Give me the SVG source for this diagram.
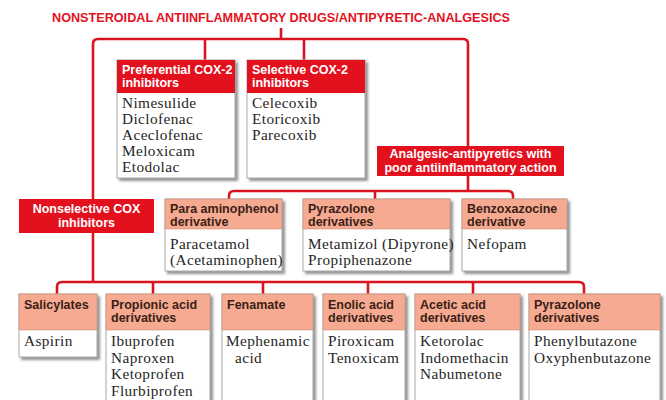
<svg xmlns="http://www.w3.org/2000/svg" width="666" height="400" viewBox="0 0 666 400">
<defs>
<filter id="sh" x="-10%" y="-10%" width="130%" height="130%">
<feDropShadow dx="2.5" dy="2.5" stdDeviation="1" flood-color="#6e6e6e" flood-opacity="0.75"/>
</filter>
<style>
.title{font-family:"Liberation Sans",Arial,sans-serif;font-weight:bold;font-size:12.5px;fill:#e3121d}
.box{fill:#fff;stroke:#a8a8a8;stroke-width:1;filter:url(#sh)}
.rh{fill:#e3101e}
.sh{fill:#f5aa91;stroke:#c98c78;stroke-width:0.6}
.wt{font-family:"Liberation Sans",Arial,sans-serif;font-weight:bold;font-size:12.5px;fill:#fff}
.ht{font-family:"Liberation Sans",Arial,sans-serif;font-weight:bold;font-size:12.5px;fill:#3a1f17}
.bt{font-family:"Liberation Serif","Times New Roman",serif;font-size:15.3px;letter-spacing:0.4px;fill:#262626}
.ln{fill:none;stroke:#d9141f;stroke-width:2.6;stroke-linejoin:round}
.c{text-anchor:middle}
</style>
</defs>
<rect width="666" height="400" fill="#fff"/>
<text class="title c" x="281" y="22" textLength="458" lengthAdjust="spacingAndGlyphs">NONSTEROIDAL ANTIINFLAMMATORY DRUGS/ANTIPYRETIC-ANALGESICS</text>

<g id="connectors">
<path class="ln" d="M281,28 V39"/>
<path class="ln" d="M93,199 V44 Q93,39 98,39 H463 Q468,39 468,44 V147"/>
<path class="ln" d="M205,39 V60 M304,39 V60"/>
<path class="ln" d="M93,233 V282"/>
<path class="ln" d="M57,294 V287 Q57,282 62,282 H579 Q584,282 584,287 V294"/>
<path class="ln" d="M153,282 V294 M263,282 V294 M368,282 V294 M473,282 V294"/>
<path class="ln" d="M468,176 V191"/>
<path class="ln" d="M229,199 V196 Q229,191 234,191 H508 Q513,191 513,196 V199"/>
<path class="ln" d="M375,191 V199"/>
</g>

<g id="preferential">
<rect class="box" x="117" y="60" width="118" height="118"/>
<rect class="rh" x="117" y="60" width="118" height="33"/>
<text class="wt" x="122" y="74">Preferential COX-2</text>
<text class="wt" x="122" y="87">inhibitors</text>
<text class="bt" x="122" y="108">Nimesulide</text>
<text class="bt" x="122" y="124">Diclofenac</text>
<text class="bt" x="122" y="140">Aceclofenac</text>
<text class="bt" x="122" y="156">Meloxicam</text>
<text class="bt" x="122" y="172">Etodolac</text>
</g>

<g id="selective">
<rect class="box" x="247" y="60" width="118" height="118"/>
<rect class="rh" x="247" y="60" width="118" height="33"/>
<text class="wt" x="252" y="74">Selective COX-2</text>
<text class="wt" x="252" y="87">inhibitors</text>
<text class="bt" x="252" y="108">Celecoxib</text>
<text class="bt" x="252" y="124">Etoricoxib</text>
<text class="bt" x="252" y="140">Parecoxib</text>
</g>

<g id="analgesic">
<rect class="rh" x="377" y="146" width="187" height="30"/>
<text class="wt c" x="470.5" y="158">Analgesic-antipyretics with</text>
<text class="wt c" x="470.5" y="171.5">poor antiinflammatory action</text>
</g>

<g id="nonselective">
<rect class="rh" x="19" y="199" width="135" height="34"/>
<text class="wt c" x="86.5" y="213">Nonselective COX</text>
<text class="wt c" x="86.5" y="227">inhibitors</text>
</g>

<g id="paraaminophenol">
<rect class="box" x="165" y="199" width="117" height="72"/>
<rect class="sh" x="165" y="199" width="117" height="30"/>
<text class="ht" x="170" y="213">Para aminophenol</text>
<text class="ht" x="170" y="226">derivative</text>
<text class="bt" x="170" y="249">Paracetamol</text>
<text class="bt" x="170" y="265">(Acetaminophen)</text>
</g>

<g id="pyrazolone1">
<rect class="box" x="303" y="199" width="147" height="72"/>
<rect class="sh" x="303" y="199" width="147" height="30"/>
<text class="ht" x="308" y="213">Pyrazolone</text>
<text class="ht" x="308" y="226">derivatives</text>
<text class="bt" x="308" y="249">Metamizol (Dipyrone)</text>
<text class="bt" x="308" y="265">Propiphenazone</text>
</g>

<g id="benzoxazocine">
<rect class="box" x="462" y="199" width="105" height="72"/>
<rect class="sh" x="462" y="199" width="105" height="30"/>
<text class="ht" x="467" y="213">Benzoxazocine</text>
<text class="ht" x="467" y="226">derivative</text>
<text class="bt" x="467" y="249">Nefopam</text>
</g>

<g id="salicylates">
<rect class="box" x="19" y="294" width="78" height="63"/>
<rect class="sh" x="19" y="294" width="78" height="36"/>
<text class="ht" x="24" y="309">Salicylates</text>
<text class="bt" x="24" y="346">Aspirin</text>
</g>

<g id="propionic">
<rect class="box" x="106" y="294" width="104" height="112"/>
<rect class="sh" x="106" y="294" width="104" height="36"/>
<text class="ht" x="111" y="309">Propionic acid</text>
<text class="ht" x="111" y="322">derivatives</text>
<text class="bt" x="111" y="346">Ibuprofen</text>
<text class="bt" x="111" y="362.5">Naproxen</text>
<text class="bt" x="111" y="379">Ketoprofen</text>
<text class="bt" x="111" y="395.5">Flurbiprofen</text>
</g>

<g id="fenamate">
<rect class="box" x="222" y="294" width="91" height="112"/>
<rect class="sh" x="222" y="294" width="91" height="36"/>
<text class="ht" x="227" y="309">Fenamate</text>
<text class="bt" x="226" y="346">Mephenamic</text>
<text class="bt" x="235" y="362.5">acid</text>
</g>

<g id="enolic">
<rect class="box" x="323" y="294" width="82" height="112"/>
<rect class="sh" x="323" y="294" width="82" height="36"/>
<text class="ht" x="328" y="309">Enolic acid</text>
<text class="ht" x="328" y="322">derivatives</text>
<text class="bt" x="328" y="346">Piroxicam</text>
<text class="bt" x="328" y="362.5">Tenoxicam</text>
</g>

<g id="acetic">
<rect class="box" x="415" y="294" width="105" height="112"/>
<rect class="sh" x="415" y="294" width="105" height="36"/>
<text class="ht" x="420" y="309">Acetic acid</text>
<text class="ht" x="420" y="322">derivatives</text>
<text class="bt" x="420" y="346">Ketorolac</text>
<text class="bt" x="420" y="362.5">Indomethacin</text>
<text class="bt" x="420" y="379">Nabumetone</text>
</g>

<g id="pyrazolone2">
<rect class="box" x="529" y="294" width="131" height="112"/>
<rect class="sh" x="529" y="294" width="131" height="36"/>
<text class="ht" x="534" y="309">Pyrazolone</text>
<text class="ht" x="534" y="322">derivatives</text>
<text class="bt" x="534" y="346">Phenylbutazone</text>
<text class="bt" x="534" y="362.5">Oxyphenbutazone</text>
</g>
</svg>
